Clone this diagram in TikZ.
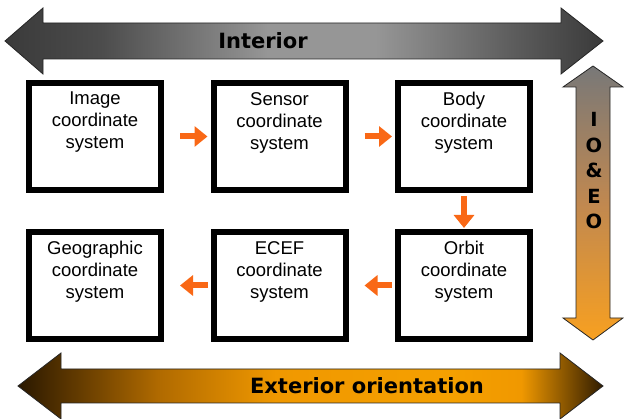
\documentclass[tikz,border=0pt]{standalone}
\usepackage{fontspec}
\setmainfont{Liberation Sans}
\newfontfamily\labfont{DejaVu Sans}
\usetikzlibrary{arrows.meta}
\definecolor{arrowor}{HTML}{F96816}
\definecolor{gA}{HTML}{3A3A3A}
\definecolor{gB}{HTML}{4C4C4C}
\definecolor{gC}{HTML}{969696}
\definecolor{gD}{HTML}{5A5A5A}
\definecolor{oA}{HTML}{2A1800}
\definecolor{oB}{HTML}{B06A00}
\definecolor{oC}{HTML}{F09800}
\definecolor{oD}{HTML}{F5A000}
\definecolor{oE}{HTML}{301C00}
\definecolor{vTop}{HTML}{787878}
\definecolor{vMid}{HTML}{C08850}
\definecolor{vBot}{HTML}{F8A020}
\pgfdeclarehorizontalshading{intshade}{100bp}{color(0bp)=(gA); color(25bp)=(gA); color(33bp)=(gB); color(47bp)=(gC); color(56bp)=(gC); color(68bp)=(gD); color(75bp)=(gA); color(100bp)=(gA)}
\pgfdeclarehorizontalshading{extshade}{100bp}{color(0bp)=(oA); color(25bp)=(oA); color(37bp)=(oB); color(47bp)=(oC); color(62bp)=(oD); color(68bp)=(oC); color(75bp)=(oE); color(100bp)=(oE)}
\pgfdeclareverticalshading{ioshade}{100bp}{color(0bp)=(vBot); color(25bp)=(vBot); color(50bp)=(vMid); color(75bp)=(vTop); color(100bp)=(vTop)}
\begin{document}
\begin{tikzpicture}[x=1pt,y=-1pt,
  box/.style={draw=black,line width=6pt,fill=white,minimum width=132pt,minimum height=107pt,inner sep=0pt},
  boxtext/.style={align=center,font=\fontsize{18.5}{22}\selectfont,inner sep=0pt},
  flow/.style={draw=arrowor,line width=6pt,-{Triangle[width=20pt,length=13pt]}},
  band/.style={draw=black!85,line width=0.8pt},
  bandtext/.style={font=\labfont\bfseries\fontsize{21}{24}\selectfont,inner sep=0pt}]
\useasboundingbox (0,0) rectangle (624,419);
% bands
\path[band,shading=intshade] (5,41) -- (43,8) -- (43,23) -- (561,23) -- (561,8) -- (603,41) -- (561,74) -- (561,59) -- (43,59) -- (43,74) -- cycle;
\path[band,shading=extshade] (18,386) -- (61,353) -- (61,369) -- (560,369) -- (560,353) -- (603,386) -- (560,419) -- (560,403) -- (61,403) -- (61,419) -- cycle;
\path[band,shading=ioshade] (593,66) -- (623,87) -- (610,87) -- (610,318) -- (623,318) -- (593,340) -- (563,318) -- (576,318) -- (576,87) -- (563,87) -- cycle;
\node[bandtext] (interior) at (263,41) {Interior};
\node[bandtext] (exterior) at (367,386) {Exterior orientation};
\node[bandtext,align=center,font=\labfont\bfseries\fontsize{19.5}{25.5}\selectfont] (ioeo) at (594,171) {I\\O\\\&\\E\\O};
% boxes
\node[box] (b1) at (95,136.5) {};
\node[box] (b2) at (279.5,136.5) {};
\node[box] (b3) at (464,136.5) {};
\node[box] (g1) at (95,285.5) {};
\node[box] (e2) at (279.5,285.5) {};
\node[box] (o3) at (464,285.5) {};
\node[boxtext] (t1) at (95,122.5) {Image\\coordinate\\system};
\node[boxtext] (t2) at (279.5,122.5) {Sensor\\coordinate\\system};
\node[boxtext] (t3) at (464,122.5) {Body\\coordinate\\system};
\node[boxtext] (t4) at (95,272) {Geographic\\coordinate\\system};
\node[boxtext] (t5) at (279.5,272) {ECEF\\coordinate\\system};
\node[boxtext] (t6) at (464,272) {Orbit\\coordinate\\system};
% connectors
\draw[flow,shorten <=16pt,shorten >=3pt] (b1.east) -- (b2.west);
\draw[flow,shorten <=16pt,shorten >=3pt] (b2.east) -- (b3.west);
\draw[flow,shorten <=3pt,shorten >=1pt] (b3.south) -- (o3.north);
\draw[flow,shorten <=3pt,shorten >=16pt] (o3.west) -- (e2.east);
\draw[flow,shorten <=3pt,shorten >=16pt] (e2.west) -- (g1.east);
\end{tikzpicture}
\end{document}
